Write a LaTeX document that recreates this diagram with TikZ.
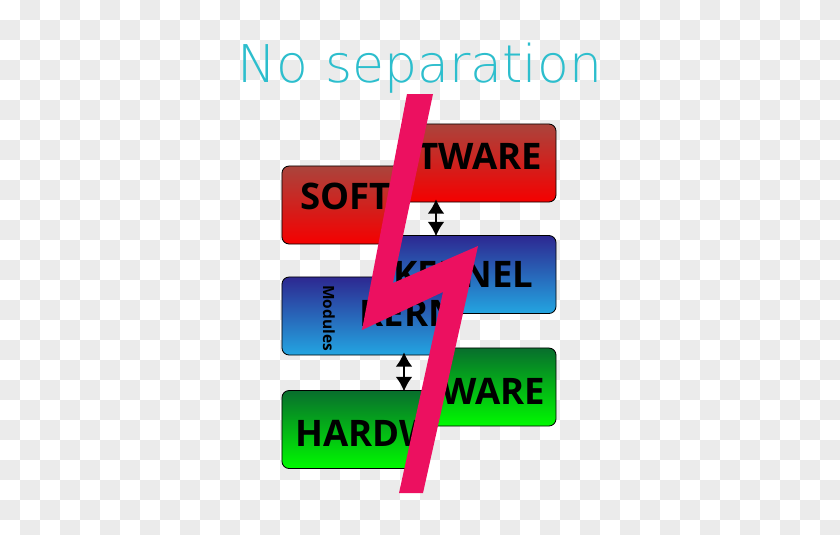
\documentclass[tikz,border=0pt]{standalone}
\usepackage{fontspec}
\usetikzlibrary{arrows.meta}
\newfontfamily\titlefont{DejaVu Sans ExtraLight}
\newfontfamily\layerfont{Open Sans}

\definecolor{titleteal}{RGB}{45,190,205}
\definecolor{boltpink}{RGB}{236,16,96}
\definecolor{swtop}{RGB}{170,68,60}
\definecolor{swbot}{RGB}{245,0,0}
\definecolor{krtop}{RGB}{45,40,145}
\definecolor{krbot}{RGB}{35,165,225}
\definecolor{hwtop}{RGB}{8,110,45}
\definecolor{hwbot}{RGB}{0,250,0}
\definecolor{checker}{RGB}{235,235,235}

\tikzset{
  layer/.style={rectangle, rounded corners=0.18cm, draw=black, line width=0.6pt,
    minimum width=6.85cm, minimum height=1.95cm, inner sep=0pt},
  layertext/.style={font=\layerfont\bfseries\fontsize{26}{26}\selectfont, inner sep=0pt},
  link/.style={line width=1.5pt, shorten <=-0.08cm, shorten >=-0.03cm,
    {Latex[length=3.6mm,width=4.2mm]}-{Latex[length=3.6mm,width=4.2mm]}},
}

\begin{document}
\begin{tikzpicture}[x=0.025cm, y=-0.025cm]
    \useasboundingbox (0,0) rectangle (840,534);

    % Checkered background
    \fill[white] (0,0) rectangle (840,534);
    \foreach \i in {0,...,41} {
      \foreach \j in {0,...,26} {
        \ifodd\numexpr\i+\j\relax
          \fill[checker] (\i*20,\j*20) rectangle ++(20,20);
        \fi
      }
    }

    % Upper halves of the layers (right of the cut)
    \begin{scope}
      \clip (420,0) -- (420,94) -- (377,306) -- (460,269) -- (411,493) -- (411,534) -- (840,534) -- (840,0) -- cycle;
      \node[layer, top color=swtop, bottom color=swbot] (swUp) at (419,163) {};
      \node[layertext] (swUpText) at ([xshift=0.65cm, yshift=0.175cm]swUp.center) {SOFTWARE};
      \node[layer, top color=krtop, bottom color=krbot] (krUp) at (419,274.5) {};
      \node[layertext] (krUpText) at ([xshift=1.11cm]krUp.center) {KERNEL};
      \node[layer, top color=hwtop, bottom color=hwbot] (hwUp) at (419,387) {};
      \node[layertext] (hwUpText) at ([xshift=0.55cm, yshift=-0.1cm]hwUp.center) {HARDWARE};
    \end{scope}

    % Lower halves of the layers (left of the cut)
    \begin{scope}
      \clip (420,0) -- (420,94) -- (377,306) -- (460,269) -- (411,493) -- (411,534) -- (0,534) -- (0,0) -- cycle;
      \node[layer, top color=swtop, bottom color=swbot] (swLo) at (419,205) {};
      \node[layertext] (swLoText) at ([xshift=-0.54cm, yshift=0.225cm]swLo.center) {SOFTWARE};
      \node[layer, top color=krtop, bottom color=krbot] (krLo) at (419,316) {};
      \node[layertext] (krLoText) at ([xshift=0.26cm, yshift=0.075cm]krLo.center) {KERNEL};
      \node[font=\layerfont\bfseries\fontsize{11}{11}\selectfont, rotate=-90, inner sep=0pt] (modules) at (329,318) {Modules};
      \node[layer, top color=hwtop, bottom color=hwbot] (hwLo) at (419,429.5) {};
      \node[layertext] (hwLoText) at ([xshift=-0.5cm, yshift=-0.1cm]hwLo.center) {HARDWARE};
    \end{scope}

    % Links between layers
    \coordinate (a1) at (436,0);
    \coordinate (a2) at (404,0);
    \draw[link] (swUp.south -| a1) -- (krUp.north -| a1);
    \draw[link] (krLo.south -| a2) -- (hwLo.north -| a2);

    % Lightning bolt
    \fill[boltpink] (407,94) -- (433,94) -- (393,283) -- (478,246) -- (423,493) -- (399,493) -- (443,292) -- (362,330) -- cycle;

    % Title
    \node[anchor=base, text=titleteal, font=\titlefont\fontsize{37}{37}\selectfont, inner sep=0pt] (title) at (420,82) {No separation};
  \end{tikzpicture}
\end{document}
